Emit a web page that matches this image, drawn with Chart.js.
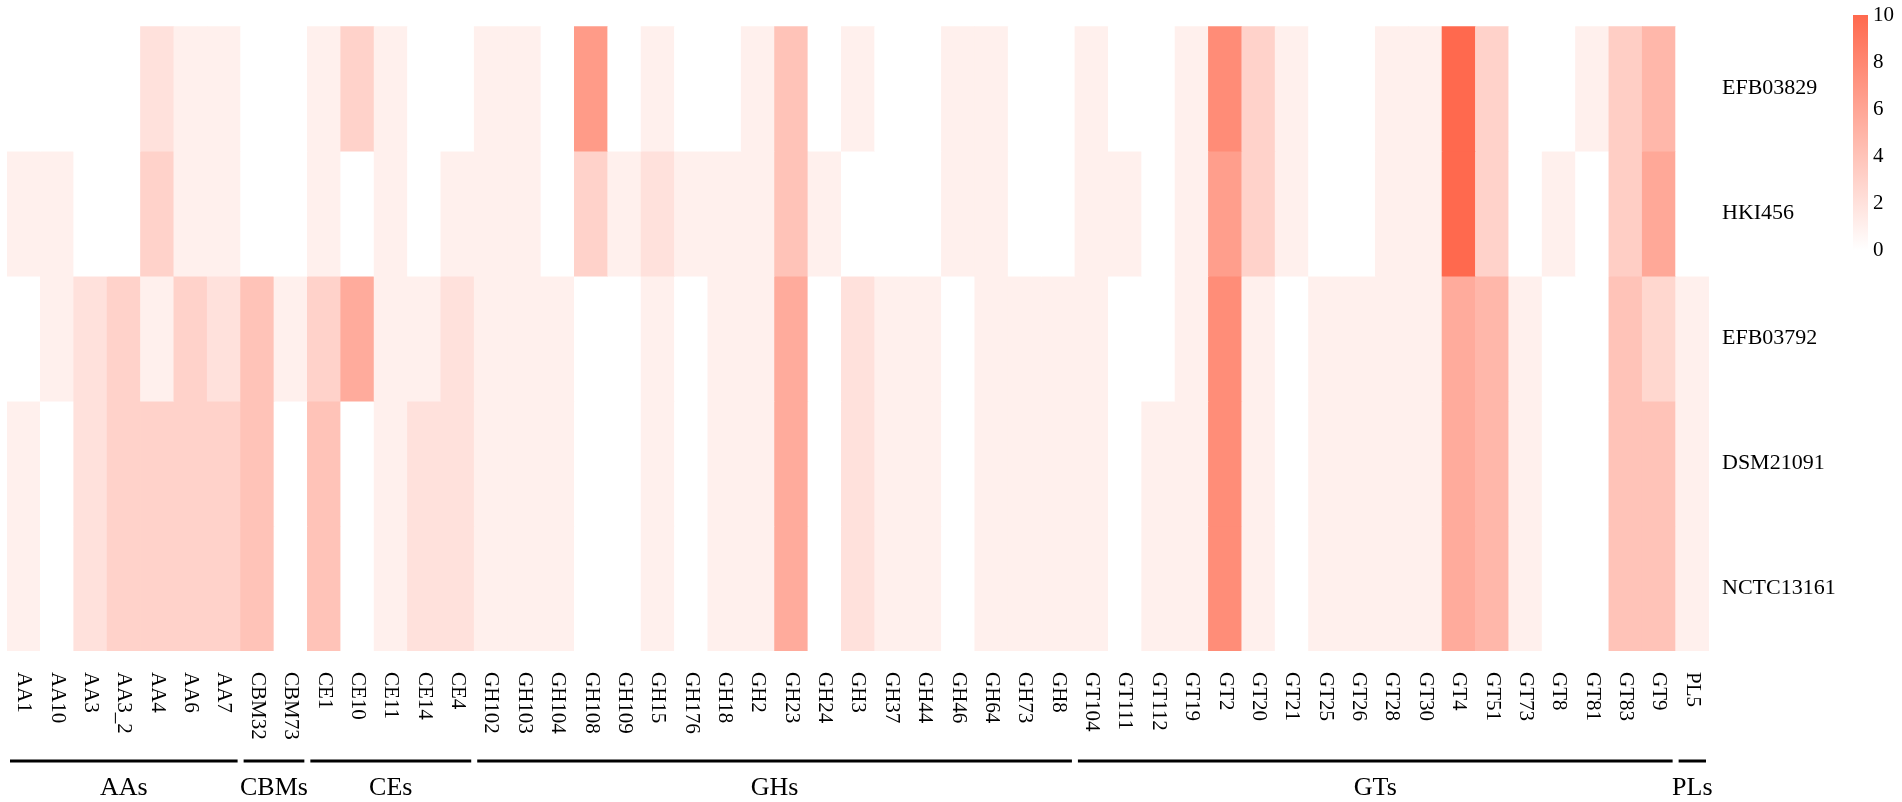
<!DOCTYPE html>
<html lang="en">
<head>
    <meta charset="UTF-8">
    <title>CAZyme heatmap</title>
    <script src="https://cdn.jsdelivr.net/npm/chart.js"></script>
    <style>
        html, body { margin: 0; padding: 0; background: #fff; overflow: hidden; }
        #box { width: 1902px; height: 802px; position: relative; }
    </style>
</head>
<body>
    <div id="box"><canvas id="myChart"></canvas></div>

    <script>
        // column labels (CAZy families) and row labels (strains)
        const columns = ['AA1', 'AA10', 'AA3', 'AA3_2', 'AA4', 'AA6', 'AA7', 'CBM32', 'CBM73',
            'CE1', 'CE10', 'CE11', 'CE14', 'CE4',
            'GH102', 'GH103', 'GH104', 'GH108', 'GH109', 'GH15', 'GH176', 'GH18', 'GH2', 'GH23',
            'GH24', 'GH3', 'GH37', 'GH44', 'GH46', 'GH64', 'GH73', 'GH8',
            'GT104', 'GT111', 'GT112', 'GT19', 'GT2', 'GT20', 'GT21', 'GT25', 'GT26', 'GT28',
            'GT30', 'GT4', 'GT51', 'GT73', 'GT8', 'GT81', 'GT83', 'GT9', 'PL5'];
        const rowNames = ['EFB03829', 'HKI456', 'EFB03792', 'DSM21091', 'NCTC13161'];

        // values per strain, same order as columns
        const efb03829  = [0, 0, 0, 0, 2, 1, 1, 0, 0, 1, 3, 1, 0, 0, 1, 1, 0, 6.7, 0, 1, 0, 0, 1, 4, 0, 1, 0, 0, 1, 1, 0, 0,
                           1, 0, 0, 1, 7.7, 3, 1, 0, 0, 1, 1, 10, 3, 0, 0, 1, 3.3, 4.8, 0];
        const hki456    = [1, 1, 0, 0, 3, 1, 1, 0, 0, 1, 0, 1, 0, 1, 1, 1, 0, 3, 1, 2, 1, 1, 1, 4, 1, 0, 0, 0, 1, 1, 0, 0,
                           1, 1, 0, 1, 6.5, 3, 1, 0, 0, 1, 1, 10, 3, 0, 1, 0, 3.3, 5.8, 0];
        const efb03792  = [0, 1, 2, 3, 1, 3, 2, 4, 1, 3, 5.6, 1, 1, 2, 1, 1, 1, 0, 0, 1, 0, 1, 1, 5.6, 0, 2, 1, 1, 0, 1, 1, 1,
                           1, 0, 0, 1, 7.6, 1, 0, 1, 1, 1, 1, 5.6, 4.8, 1, 0, 0, 4, 2.7, 1];
        const dsm21091  = [1, 0, 2, 3, 3, 3, 3, 4, 0, 4, 0, 1, 2, 2, 1, 1, 1, 0, 0, 1, 0, 1, 1, 5.6, 0, 2, 1, 1, 0, 1, 1, 1,
                           1, 0, 1, 1, 7.6, 1, 0, 1, 1, 1, 1, 5.6, 4.8, 1, 0, 0, 4, 4, 1];
        const nctc13161 = [1, 0, 2, 3, 3, 3, 3, 4, 0, 4, 0, 1, 2, 2, 1, 1, 1, 0, 0, 1, 0, 1, 1, 5.6, 0, 2, 1, 1, 0, 1, 1, 1,
                           1, 0, 1, 1, 7.6, 1, 0, 1, 1, 1, 1, 5.6, 4.8, 1, 0, 0, 4, 4, 1];
        const rowValues = [efb03829, hki456, efb03792, dsm21091, nctc13161];

        // colour bar ticks
        const legendTicks = [0, 2, 4, 6, 8, 10];
        const maxValue = 10;

        const lowColor = [255, 255, 255];
        const highColor = [255, 105, 78];

        function colorFor(v) {
            const t = Math.max(0, Math.min(1, v / maxValue));
            const c = lowColor.map((lo, k) => Math.round(lo + (highColor[k] - lo) * t));
            return 'rgb(' + c.join(',') + ')';
        }

        // family groups from the column name prefix (AA, CBM, CE, GH, GT, PL)
        const groups = [];
        columns.forEach((name, i) => {
            const g = name.match(/^[A-Z]+/)[0] + 's';
            if (groups.length && groups[groups.length - 1].name === g) {
                groups[groups.length - 1].last = i;
            } else {
                groups.push({ name: g, first: i, last: i });
            }
        });

        const serif = '"Liberation Serif", "Times New Roman", serif';

        // labels under the heatmap, group brackets and colour bar
        const extras = {
            id: 'extras',
            afterDraw(chart) {
                const { ctx, chartArea } = chart;
                const x = chart.scales.x;
                const half = (x.getPixelForValue(1) - x.getPixelForValue(0)) / 2;

                ctx.save();
                ctx.fillStyle = '#000';

                // column labels, rotated to read top to bottom
                ctx.font = '21px ' + serif;
                ctx.textAlign = 'left';
                ctx.textBaseline = 'middle';
                columns.forEach((name, i) => {
                    ctx.save();
                    ctx.translate(x.getPixelForValue(i), chartArea.bottom + 21);
                    ctx.rotate(Math.PI / 2);
                    ctx.fillText(name, 0, 0);
                    ctx.restore();
                });

                // group brackets
                const lineY = chartArea.bottom + 110;
                ctx.strokeStyle = '#000';
                ctx.lineWidth = 3;
                ctx.font = '26px ' + serif;
                ctx.textAlign = 'center';
                groups.forEach(g => {
                    const x0 = x.getPixelForValue(g.first) - half + 3;
                    const x1 = x.getPixelForValue(g.last) + half - 3;
                    ctx.beginPath();
                    ctx.moveTo(x0, lineY);
                    ctx.lineTo(x1, lineY);
                    ctx.stroke();
                    ctx.fillText(g.name, (x0 + x1) / 2, lineY + 27);
                });

                // colour bar
                const cbLeft = chart.width - 49, cbWidth = 15, cbTop = 15, cbBottom = 250;
                const grad = ctx.createLinearGradient(0, cbBottom, 0, cbTop);
                grad.addColorStop(0, colorFor(0));
                grad.addColorStop(1, colorFor(maxValue));
                ctx.fillStyle = grad;
                ctx.fillRect(cbLeft, cbTop, cbWidth, cbBottom - cbTop);

                ctx.fillStyle = '#000';
                ctx.font = '21px ' + serif;
                ctx.textAlign = 'left';
                ctx.textBaseline = 'middle';
                legendTicks.forEach(t => {
                    const ty = cbBottom - (t / maxValue) * (cbBottom - cbTop);
                    ctx.fillText(String(t), cbLeft + cbWidth + 5, ty);
                });
                ctx.restore();
            }
        };

        function drawChart() {
            // one dataset per strain; each cell is a floating bar spanning one row
            const datasets = rowValues.map((vals, r) => ({
                label: rowNames[r],
                data: vals.map(() => [r, r + 1]),
                backgroundColor: vals.map(colorFor),
                borderWidth: 0,
                barPercentage: 1,
                categoryPercentage: 1,
                grouped: false
            }));

            const config = {
                type: 'bar',
                data: { labels: columns, datasets: datasets },
                options: {
                    responsive: true,
                    maintainAspectRatio: false,
                    animation: false,
                    layout: { padding: { left: 7, top: 13, bottom: 151, right: 0 } },
                    plugins: { legend: { display: false }, tooltip: { enabled: false } },
                    scales: {
                        x: { display: false },
                        y: { display: false, min: 0, max: rowNames.length, reverse: true },
                        rows: {
                            type: 'category',
                            labels: rowNames,
                            offset: true,
                            position: 'right',
                            grid: { display: false, drawTicks: false },
                            border: { display: false },
                            ticks: { color: '#000', padding: 13, font: { family: serif, size: 22 } },
                            afterFit(scale) { scale.width = 193; }
                        }
                    }
                },
                plugins: [extras]
            };

            const ctx = document.getElementById('myChart').getContext('2d');
            new Chart(ctx, config);
        }

        window.onload = drawChart;
    </script>
</body>
</html>
